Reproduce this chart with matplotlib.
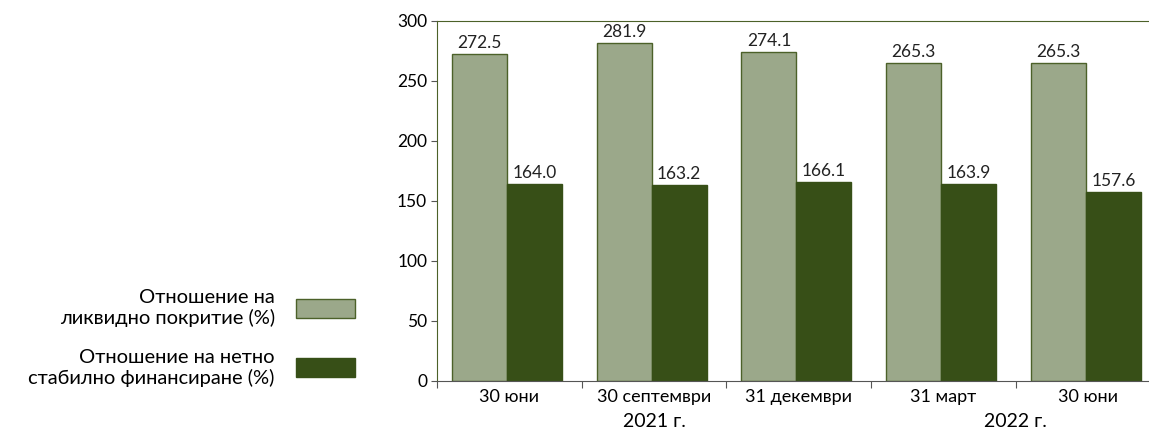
import numpy as np
import matplotlib.pyplot as plt

plt.rcParams['font.family'] = ['Lato', 'DejaVu Sans']

categories = ['30 юни', '30 септември', '31 декември', '31 март', '30 юни']
years = ['2021 г.', '2022 г.']
lcr = [272.5, 281.9, 274.1, 265.3, 265.3]
nsfr = [164.0, 163.2, 166.1, 163.9, 157.6]
labels = ['Отношение на\nликвидно покритие (%)',
          'Отношение на нетно\nстабилно финансиране (%)']

c_light = '#9ba88a'
c_dark = '#374f17'
c_edge = '#4c6129'

fig = plt.figure(figsize=(11.49, 4.32), dpi=100)
ax = fig.add_axes([0.3803, 0.1181, 0.6297, 0.8333])

x = np.arange(len(categories))
w = 0.38
b1 = ax.bar(x - 0.396, lcr, width=w, align='edge', color=c_light,
            edgecolor=c_edge, linewidth=1.0, label=labels[0])
b2 = ax.bar(x - 0.016, nsfr, width=w, align='edge', color=c_dark,
            edgecolor=c_dark, linewidth=1.0, label=labels[1])

for bars, vals in ((b1, lcr), (b2, nsfr)):
    for r, v in zip(bars, vals):
        ax.text(r.get_x() + r.get_width() / 2, v + 2.5, '%.1f' % v,
                ha='center', va='bottom', fontsize=12.5, color='#222222')

ax.set_xlim(-0.5, len(categories) - 0.5)
ax.set_ylim(0, 300)
ax.set_yticks(np.arange(0, 301, 50))
ax.tick_params(axis='y', labelsize=12.5, length=4, color='#555555', pad=3)

# category ticks between groups, labels centered in each group
ax.set_xticks(np.arange(-0.5, len(categories), 1.0))
ax.set_xticklabels([])
ax.set_xticks(x, minor=True)
ax.set_xticklabels(categories, minor=True, fontsize=13)
ax.tick_params(axis='x', which='major', length=5, color='#555555')
ax.tick_params(axis='x', which='minor', length=0, pad=6)

for s in ('top', 'left'):
    ax.spines[s].set_color(c_edge)
ax.spines['bottom'].set_color('#555555')
ax.spines['right'].set_visible(False)

# year labels under the category labels
ax.text(1, -0.09, years[0], transform=ax.get_xaxis_transform(),
        ha='center', va='top', fontsize=14)
ax.text(3.5, -0.09, years[1], transform=ax.get_xaxis_transform(),
        ha='center', va='top', fontsize=14)

leg = fig.legend(handles=[b1, b2], loc='lower right',
                 bbox_to_anchor=(0.325, 0.063), frameon=False,
                 markerfirst=False, fontsize=14.5, handlelength=2.95,
                 handleheight=1.1, handletextpad=1.05, labelspacing=1.05)
for t in leg.get_texts():
    t.set_multialignment('right')

fig.savefig('out.png', dpi=100)
